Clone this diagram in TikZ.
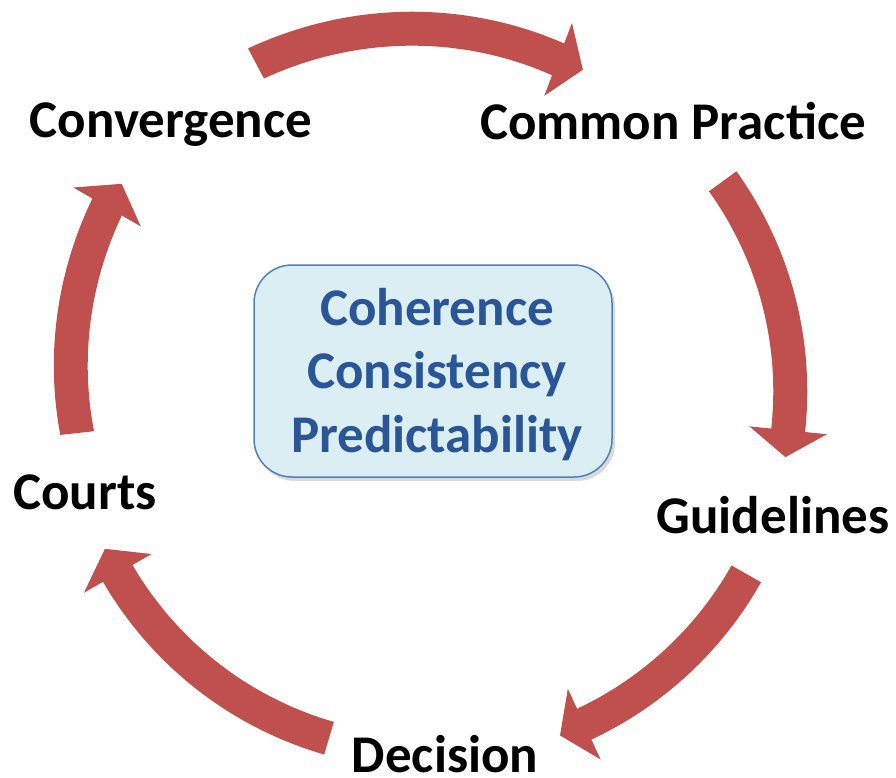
\documentclass[tikz,border=0pt]{standalone}
\usepackage{fontspec}
\setmainfont{Carlito}
\usetikzlibrary{shadows}
\definecolor{arrowred}{HTML}{C0504D}
\definecolor{boxfill}{HTML}{DAEEF3}
\definecolor{boxline}{HTML}{4F81BD}
\definecolor{boxtext}{HTML}{2A5597}

% Curved block arrow around the centre of the cycle.
% #1 tail angle, #2 tail radius, #3 head-base angle, #4 head-base radius,
% #5 tip angle, #6 tip radius
\newcommand\ringarrow[6]{%
  \fill[arrowred]
    plot[domain=#1:#3,samples=40] ({\x}:{#2+(#4-#2)*(\x-#1)/(#3-#1)+17})
    -- (#3:{#4+39}) -- (#5:#6) -- (#3:{#4-39})
    -- plot[domain=#3:#1,samples=40] ({\x}:{#2+(#4-#2)*(\x-#1)/(#3-#1)-17})
    -- cycle;}

\begin{document}
\begin{tikzpicture}[x=1pt,y=1pt,
  stagelabel/.style={font=\bfseries\fontsize{53}{63}\selectfont,
    text=black,inner sep=0pt,anchor=base},
  centrebox/.style={draw=boxline,line width=1.5pt,fill=boxfill,
    rounded corners=38pt,
    drop shadow={shadow xshift=3pt,shadow yshift=-4pt,opacity=0.3}}]
\useasboundingbox (0,-777) rectangle (896,0);

% cycle arrows
\begin{scope}[shift={(431,-394)}]
  \ringarrow{117.9}{374}{69.2}{358}{64.9}{358}
  \ringarrow{36.1}{361}{-5.8}{359}{-10.1}{360}
  \ringarrow{-29.7}{363}{-65.1}{364}{-69.3}{365}
  \ringarrow{-106.5}{359}{-150.2}{361}{-154.6}{361}
  \ringarrow{-173.7}{356}{-210}{374}{-214.2}{374}
\end{scope}

% central box
\path[centrebox] (254,-265) rectangle (612,-477);
\node[stagelabel,text=boxtext] (coh) at (437,-325) {Coherence};
\node[stagelabel,text=boxtext] (con) at (437,-388) {Consistency};
\node[stagelabel,text=boxtext] (pre) at (437,-452) {Predictability};

% stage labels
\node[stagelabel] (convergence) at (171,-137) {Convergence};
\node[stagelabel] (practice) at (673,-139) {Common Practice};
\node[stagelabel] (guidelines) at (773,-533) {Guidelines};
\node[stagelabel] (decision) at (445,-772) {Decision};
\node[stagelabel] (courts) at (85,-509) {Courts};
\end{tikzpicture}
\end{document}
